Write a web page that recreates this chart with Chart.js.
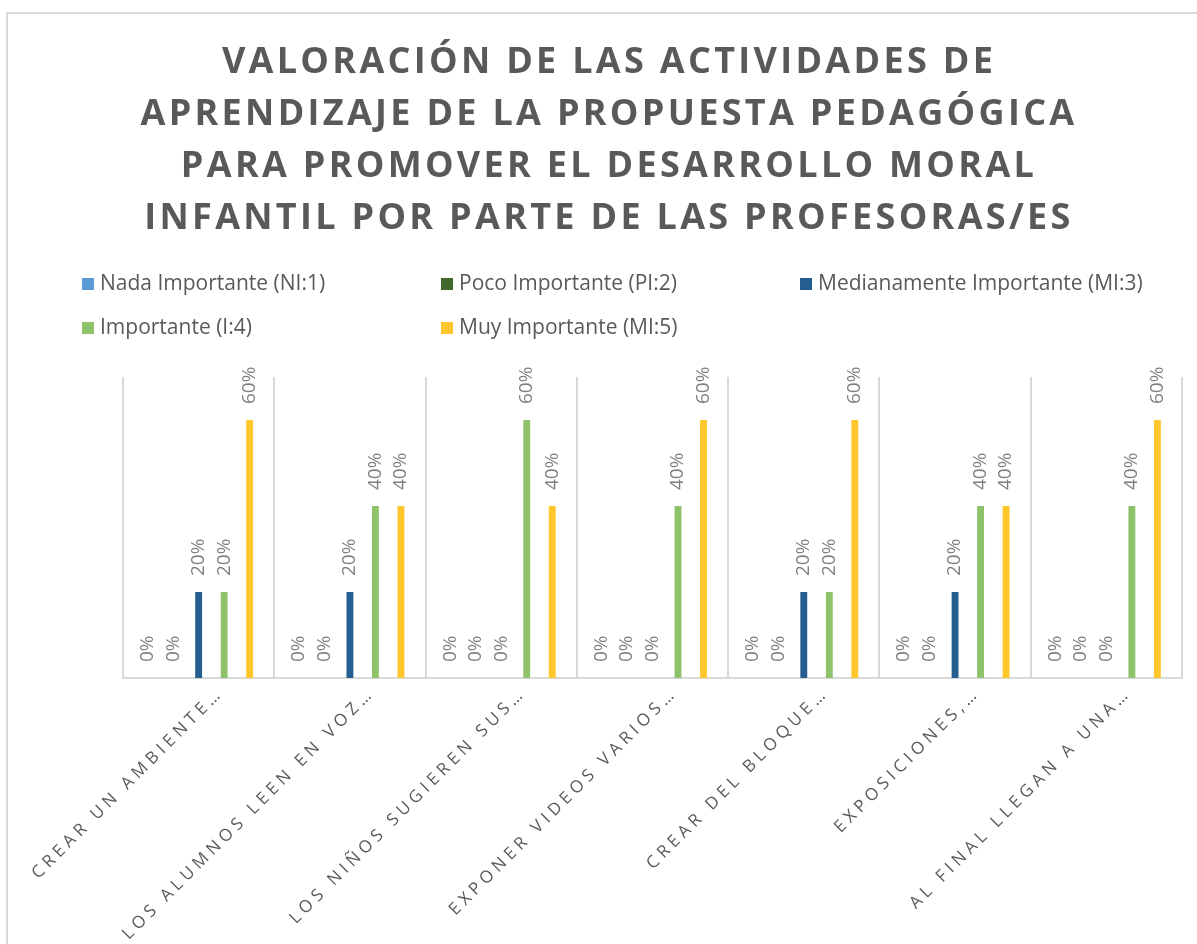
<!DOCTYPE html>
<html lang="es">
<head>
  <meta charset="UTF-8" />
  <title>Valoración de las actividades de aprendizaje</title>
  <style>
    body {
      margin: 0;
      background: #fff;
      font-family: "Open Sans", sans-serif;
    }
    .frame {
      position: absolute;
      left: 6px;
      top: 12px;
      width: 1300px;
      height: 1000px;
      border: 2px solid #d9d9d9;
    }
    #chart {
      position: absolute;
      left: 8px;
      top: 14px;
    }
  </style>
</head>
<body>
  <div class="frame"></div>
  <canvas id="chart" width="1189" height="930"></canvas>

  <script src="https://cdn.jsdelivr.net/npm/chart.js"></script>
  <script>
    const titleLines = [
      "VALORACIÓN DE LAS ACTIVIDADES DE",
      "APRENDIZAJE DE LA PROPUESTA PEDAGÓGICA",
      "PARA PROMOVER EL DESARROLLO MORAL",
      "INFANTIL POR PARTE DE LAS PROFESORAS/ES"
    ];
    const categories = [
      "CREAR UN AMBIENTE…",
      "LOS ALUMNOS LEEN EN VOZ…",
      "LOS NIÑOS SUGIEREN SUS…",
      "EXPONER VIDEOS VARIOS…",
      "CREAR DEL BLOQUE…",
      "EXPOSICIONES,…",
      "AL FINAL LLEGAN A UNA…"
    ];
    const seriesNames = [
      "Nada Importante (NI:1)",
      "Poco Importante (PI:2)",
      "Medianamente Importante (MI:3)",
      "Importante (I:4)",
      "Muy Importante (MI:5)"
    ];
    // percentages
    const nadaImportante = [0, 0, 0, 0, 0, 0, 0];
    const pocoImportante = [0, 0, 0, 0, 0, 0, 0];
    const medianamenteImportante = [20, 20, 0, 0, 20, 20, 0];
    const importante = [20, 40, 60, 40, 20, 40, 40];
    const muyImportante = [60, 40, 40, 60, 60, 40, 60];
    const seriesColors = ["#5B9BD5", "#43682B", "#255E91", "#8FC36B", "#FFC72C"];

    const allSeries = [nadaImportante, pocoImportante, medianamenteImportante, importante, muyImportante];

    // title + legend drawn in the reserved top padding
    const headerPlugin = {
      id: 'header',
      beforeDraw(chart) {
        // wide spacing for the category labels
        chart.ctx.letterSpacing = '4.5px';
      },
      afterDraw(chart) {
        const ctx = chart.ctx;
        ctx.save();
        ctx.letterSpacing = '3.3px';
        ctx.fillStyle = '#595959';
        ctx.font = 'bold 36px "Open Sans"';
        ctx.textAlign = 'center';
        ctx.textBaseline = 'middle';
        titleLines.forEach((line, i) => {
          ctx.fillText(line, 601, 49 + i * 51.8);
        });

        ctx.letterSpacing = '0px';
        ctx.font = '21px "Open Sans"';
        ctx.textAlign = 'left';
        chart.data.datasets.forEach((ds, i) => {
          const col = i < 3 ? i : i - 3;
          const row = i < 3 ? 0 : 1;
          const x = 74 + col * 359;
          const y = 270 + row * 44;
          ctx.fillStyle = ds.backgroundColor;
          ctx.fillRect(x, y - 6, 12, 12);
          ctx.fillStyle = '#595959';
          ctx.fillText(ds.label, x + 18, y);
        });
        ctx.restore();
      }
    };

    const valueLabels = {
      id: 'valueLabels',
      afterDatasetsDraw(chart) {
        const ctx = chart.ctx;
        ctx.save();
        ctx.letterSpacing = '0px';
        ctx.font = '19px "Open Sans"';
        ctx.fillStyle = '#7F7F7F';
        ctx.textAlign = 'left';
        ctx.textBaseline = 'middle';
        chart.data.datasets.forEach((ds, i) => {
          chart.getDatasetMeta(i).data.forEach((bar, j) => {
            ctx.save();
            ctx.translate(bar.x, bar.y - 16);
            ctx.rotate(-Math.PI / 2);
            ctx.fillText(ds.data[j] + '%', 0, 0);
            ctx.restore();
          });
        });
        ctx.restore();
      }
    };

    new Chart(document.getElementById('chart'), {
      type: 'bar',
      data: {
        labels: categories,
        datasets: seriesNames.map((name, i) => ({
          label: name,
          data: allSeries[i],
          backgroundColor: seriesColors[i],
          borderWidth: 0,
          categoryPercentage: 0.843,
          barPercentage: 0.27
        }))
      },
      options: {
        responsive: false,
        animation: false,
        layout: { padding: { top: 363, left: 115, right: 15, bottom: 0 } },
        plugins: {
          legend: { display: false },
          title: { display: false },
          tooltip: { enabled: false }
        },
        scales: {
          x: {
            offset: true,
            grid: { offset: true, color: '#d9d9d9', lineWidth: 2, drawTicks: false },
            border: { color: '#d9d9d9', width: 2 },
            ticks: {
              minRotation: 45,
              maxRotation: 45,
              autoSkip: false,
              padding: 5,
              labelOffset: 22,
              color: '#595959',
              font: { family: 'Open Sans', size: 17 }
            },
            afterFit(scale) {
              scale.height = 266;
              scale.paddingLeft = 0;
              scale.paddingRight = 0;
            }
          },
          y: {
            display: false,
            min: 0,
            max: 70
          }
        }
      },
      plugins: [headerPlugin, valueLabels]
    });
  </script>
</body>
</html>
